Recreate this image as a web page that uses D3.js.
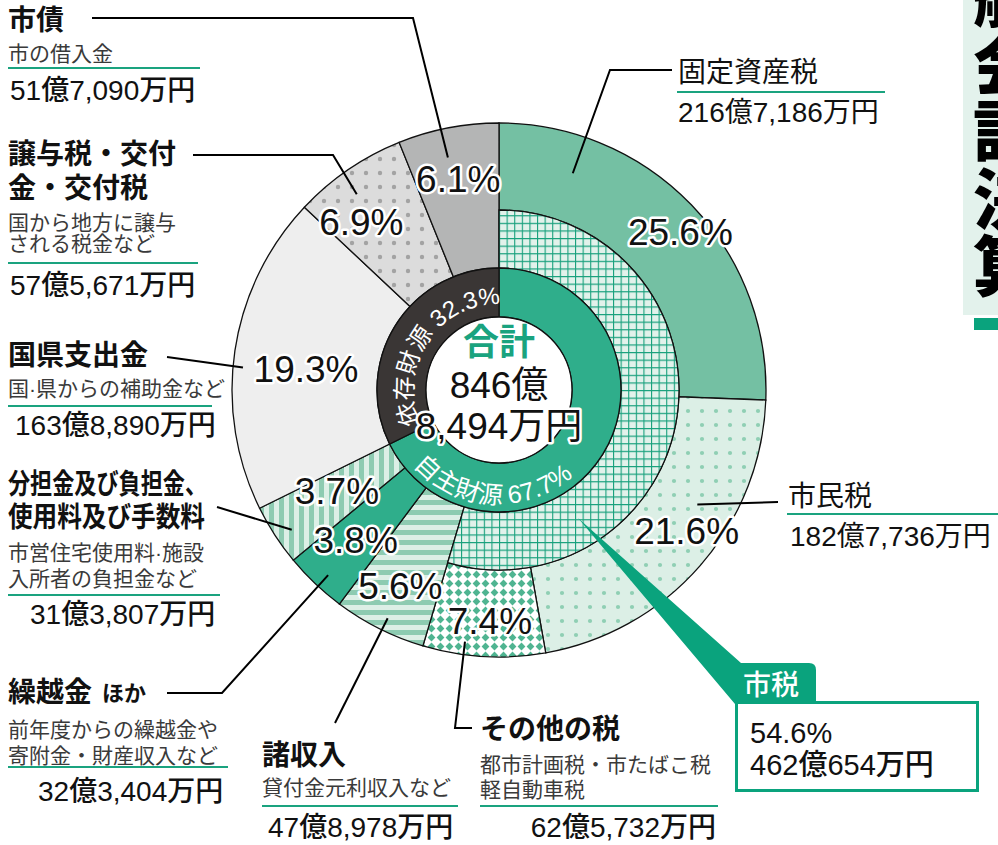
<!DOCTYPE html>
<html><head><meta charset="utf-8">
<script src="https://cdn.jsdelivr.net/npm/d3@7"></script>
<style>
body{margin:0;background:#fff}
svg{display:block}
text{font-family:"Liberation Sans","Noto Sans CJK JP",sans-serif}
</style>
</head><body>
<svg id="c" width="998" height="845"></svg>
<script>
// ---------- DATA ----------
const categories = ['固定資産税','市民税','その他の税','諸収入','繰越金','分担金及び負担金、使用料及び手数料','国県支出金','譲与税・交付金・交付税','市債'];
const shares = [25.6, 21.6, 7.4, 5.6, 3.8, 3.7, 19.3, 6.9, 6.1];
const amounts = ['216億7,186万円','182億7,736万円','62億5,732万円','47億8,978万円','32億3,404万円','31億3,807万円','163億8,890万円','57億5,671万円','51億7,090万円'];
const nameLines = [['固定資産税'],['市民税'],['その他の税'],['諸収入'],['繰越金'],['分担金及び負担金、','使用料及び手数料'],['国県支出金'],['譲与税・交付','金・交付税'],['市債']];
const nameSuffix = ['','','','','ほか','','','',''];
const subLines = [[],[],['都市計画税・市たばこ税','軽自動車税'],['貸付金元利収入など'],['前年度からの繰越金や','寄附金・財産収入など'],['市営住宅使用料·施設','入所者の負担金など'],['国·県からの補助金など'],['国から地方に譲与','される税金など'],['市の借入金']];
const cityTaxMembers = ['固定資産税','市民税','その他の税'];
const cityTaxName = '市税';
const cityTaxShare = 54.6;
const cityTaxAmount = '462億654万円';
const sourceNames = ['自主財源','依存財源'];
const sourceShares = [67.7, 32.3];
const totalTitle = '合計';
const totalLines = ['846億','8,494万円'];
const sideTitle = ['般','会','計','決','算'];

// ---------- STYLE / LAYOUT ----------
const W = 998, H = 845, cx = 499, cy = 390;
const R_OUT = 267, R_MID = 180, R_SRC = 122, R_IN = 73;
const green = '#0aa37d';
const fills = ['#74c0a3','url(#dotG)','url(#diam)','url(#hstr)','#2fae8b','url(#vstr)','#eeeeee','url(#dotK)','#b4b5b5'];
const srcFills = ['#2fae8b','#3a3635'];
const pctPos = [[240,3],[235,-4],[232,-1],[220,0],[208,0],[191,1],[194,-2.5],[217,-5],[214,0]];
const leadAnchor = [[18.8,229],[120,229],[187.7,254],[206,254],[222.7,252],[236,250],[275,257],[324,242],[347.6,238]];
const leadRoute = [[[610,70],[672,70]],[[778,502]],[[455,728],[472,728]],[[335,723]],[[222,693],[167,693]],[[217,507]],[[167,357]],[[333,155],[193,155]],[[413,18],[92,18]]];
const lab = [
 {x:678, nameY:[72], w:400, subY:[], rule:[677,885,92], amt:[678,112,'start'], aw:400},
 {x:788, nameY:[496], w:400, subY:[], rule:[787,998,514], amt:[790,536,'start'], aw:400},
 {x:480, nameY:[729], w:700, subY:[764,789], rule:[480,718,806], amt:[716,827,'end'], aw:500},
 {x:262, nameY:[755], w:700, subY:[787], rule:[262,458,806], amt:[268,827,'start'], aw:500},
 {x:8, nameY:[692], w:700, subY:[729,755], rule:[8,228,767], amt:[38,791,'start'], aw:500},
 {x:8, nameY:[484,517], w:700, subY:[552,578], rule:[8,220,595], amt:[30,614,'start'], aw:500, fit:[199,197]},
 {x:8, nameY:[355], w:700, subY:[388], rule:[8,212,406], amt:[15,425,'start'], aw:500},
 {x:8, nameY:[154,188], w:700, subY:[222,243], rule:[8,198,263], amt:[10,285,'start'], aw:500},
 {x:8, nameY:[20], w:700, subY:[53], rule:[8,200,68], amt:[10,90,'start'], aw:500}
];

const svg = d3.select('#c');
const defs = svg.append('defs');
function pat(id,w,h){return defs.append('pattern').attr('id',id).attr('patternUnits','userSpaceOnUse').attr('width',w).attr('height',h);}
let p = pat('dotG',14,14); p.append('rect').attr('width',14).attr('height',14).attr('fill','#dcefe6'); p.append('circle').attr('cx',7).attr('cy',7).attr('r',2.1).attr('fill','#8fcfb4');
p = pat('dotK',14,14); p.append('rect').attr('width',14).attr('height',14).attr('fill','#dcdcdc'); p.append('circle').attr('cx',7).attr('cy',7).attr('r',2.2).attr('fill','#a3a3a3');
p = pat('grid',7.6,7.6); p.append('rect').attr('width',7.6).attr('height',7.6).attr('fill','#e2f2eb'); p.append('path').attr('d','M0,0.5H7.6M0.5,0V7.6').attr('stroke','#17a07c').attr('stroke-width',1.2);
p = pat('diam',9,9); p.append('rect').attr('width',9).attr('height',9).attr('fill','#ffffff'); p.append('path').attr('d','M4.5,0.6L8.4,4.5L4.5,8.4L0.6,4.5Z').attr('fill','#4fb491');
p = pat('hstr',10,10); p.append('rect').attr('width',10).attr('height',10).attr('fill','#dcefe6'); p.append('rect').attr('width',10).attr('height',5).attr('fill','#8dcbb1');
p = pat('vstr',10,10); p.append('rect').attr('width',10).attr('height',10).attr('fill','#dcefe6'); p.append('rect').attr('width',5).attr('height',10).attr('fill','#8dcbb1');

// side title
svg.append('rect').attr('x',963).attr('y',0).attr('width',40).attr('height',315).attr('fill','#e3f2ec');
svg.append('rect').attr('x',974).attr('y',318).attr('width',30).attr('height',12).attr('fill',green);
svg.selectAll('text.side').data(sideTitle).join('text').attr('class','side')
  .attr('x',1006).attr('y',(d,i)=>-8+i*67.5).attr('text-anchor','middle').attr('dominant-baseline','central')
  .attr('font-size',66).attr('font-weight',900).attr('fill','#000').style('font-family','"Noto Sans CJK JP"').text(d=>d);

const g = svg.append('g').attr('transform',`translate(${cx},${cy})`);
const pie = d3.pie().sort(null).value(d=>d);
const arcs = pie(shares);
const arc = d3.arc();
const deg = Math.PI/180;

g.selectAll('path.slice').data(arcs).join('path').attr('class','slice')
  .attr('d',(d,i)=>arc({startAngle:d.startAngle,endAngle:d.endAngle,innerRadius: cityTaxMembers.includes(categories[i])?R_MID:R_SRC, outerRadius:R_OUT}))
  .attr('fill',(d,i)=>fills[i]).attr('stroke','#111').attr('stroke-width',1.3);

const ctEnd = arcs[categories.indexOf(cityTaxMembers[cityTaxMembers.length-1])].endAngle;
g.append('path').attr('d',arc({startAngle:0,endAngle:ctEnd,innerRadius:R_SRC,outerRadius:R_MID}))
  .attr('fill','url(#grid)').attr('stroke','#111').attr('stroke-width',1.3);

const srcArcs = pie(sourceShares);
g.selectAll('path.src').data(srcArcs).join('path').attr('class','src')
  .attr('d',d=>arc({startAngle:d.startAngle,endAngle:d.endAngle,innerRadius:R_IN,outerRadius:R_SRC}))
  .attr('fill',(d,i)=>srcFills[i]).attr('stroke','#111').attr('stroke-width',1.3);
g.append('circle').attr('r',R_IN).attr('fill','#fff').attr('stroke','#111').attr('stroke-width',1.3);

// leader lines
const polar = (a,r)=>[cx + r*Math.sin(a*deg), cy - r*Math.cos(a*deg)];
const line = d3.line();
svg.selectAll('path.lead').data(leadAnchor).join('path').attr('class','lead')
  .attr('d',(d,i)=>line([polar(d[0],d[1]), ...leadRoute[i]]))
  .attr('fill','none').attr('stroke','#000').attr('stroke-width',2);

// callout
svg.append('path').attr('d','M578,518L741,663L809,663Q816,663 816,670L816,704L735,704Z').attr('fill',green);
svg.append('rect').attr('x',736.5).attr('y',702.5).attr('width',241).attr('height',88).attr('fill','#fff').attr('stroke',green).attr('stroke-width',3);
svg.append('text').attr('x',743).attr('y',685).attr('dominant-baseline','central').attr('font-size',28).attr('font-weight',500).attr('fill','#fff').text(cityTaxName);
svg.append('text').attr('x',750).attr('y',733).attr('dominant-baseline','central').attr('font-size',29).attr('fill','#111').text(cityTaxShare+'%');
svg.append('text').attr('x',750).attr('y',765).attr('dominant-baseline','central').attr('font-size',29).attr('font-weight',500).attr('fill','#111').text(cityTaxAmount);

// percent labels
g.selectAll('text.pct').data(arcs).join('text').attr('class','pct')
  .attr('transform',(d,i)=>{const a=(d.startAngle+d.endAngle)/2 + pctPos[i][1]*deg, r=pctPos[i][0]; return `translate(${r*Math.sin(a)},${-r*Math.cos(a)})`;})
  .attr('text-anchor','middle').attr('dominant-baseline','central')
  .attr('font-size',37).attr('fill','#111').attr('stroke','#fff').attr('stroke-width',5).attr('paint-order','stroke').attr('stroke-linejoin','round')
  .text((d,i)=>shares[i]+'%');

// ring text along arcs
function arcD(r,a0,a1,sweep){const p0=[r*Math.sin(a0*deg),-r*Math.cos(a0*deg)], p1=[r*Math.sin(a1*deg),-r*Math.cos(a1*deg)];return `M${p0[0]},${p0[1]}A${r},${r} 0 0 ${sweep} ${p1[0]},${p1[1]}`;}
g.append('path').attr('id','tpDep').attr('d',arcD(86,-56-89,-56+89,1)).attr('fill','none');
g.append('path').attr('id','tpInd').attr('d',arcD(114,184+89,184-89,0)).attr('fill','none');
g.append('text').attr('font-size',24).attr('fill','#fff').append('textPath').attr('href','#tpDep').attr('startOffset','50%').attr('text-anchor','middle').text(sourceNames[1]+' '+sourceShares[1]+'%');
g.append('text').attr('font-size',25).attr('fill','#fff').append('textPath').attr('href','#tpInd').attr('startOffset','50%').attr('text-anchor','middle').text(sourceNames[0]+' '+sourceShares[0]+'%');

// center text
g.append('text').attr('y',-48).attr('text-anchor','middle').attr('dominant-baseline','central').attr('font-size',36).attr('font-weight',700).attr('fill','#1aa37f').text(totalTitle);
g.append('text').attr('y',-5).attr('text-anchor','middle').attr('dominant-baseline','central').attr('font-size',37).attr('fill','#111').text(totalLines[0]);
g.append('text').attr('y',36).attr('text-anchor','middle').attr('dominant-baseline','central').attr('font-size',37).attr('fill','#111')
  .attr('stroke','#fff').attr('stroke-width',5).attr('paint-order','stroke').attr('stroke-linejoin','round').text(totalLines[1]);

// label blocks
lab.forEach((L,i)=>{
  nameLines[i].forEach((t,j)=>{
    const tx = svg.append('text').attr('x',L.x).attr('y',L.nameY[j]).attr('dominant-baseline','central')
      .attr('font-size',28).attr('font-weight',L.w).attr('fill','#111').text(t);
    if(L.fit) tx.attr('textLength',L.fit[j]).attr('lengthAdjust','spacingAndGlyphs');
  });
  if(nameSuffix[i]) svg.append('text').attr('x',L.x+94).attr('y',L.nameY[0]+1).attr('dominant-baseline','central').attr('font-size',22).attr('font-weight',700).attr('fill','#111').text(nameSuffix[i]);
  subLines[i].forEach((t,j)=>{
    svg.append('text').attr('x',L.x).attr('y',L.subY[j]).attr('dominant-baseline','central').attr('font-size',21).attr('fill','#3a3a3a').text(t);
  });
  svg.append('line').attr('x1',L.rule[0]).attr('x2',L.rule[1]).attr('y1',L.rule[2]).attr('y2',L.rule[2]).attr('stroke','#1aa37f').attr('stroke-width',2);
  svg.append('text').attr('x',L.amt[0]).attr('y',L.amt[1]).attr('text-anchor',L.amt[2]).attr('dominant-baseline','central')
    .attr('font-size',28).attr('font-weight',L.aw).attr('fill','#111').text(amounts[i]);
});
</script>
</body></html>
